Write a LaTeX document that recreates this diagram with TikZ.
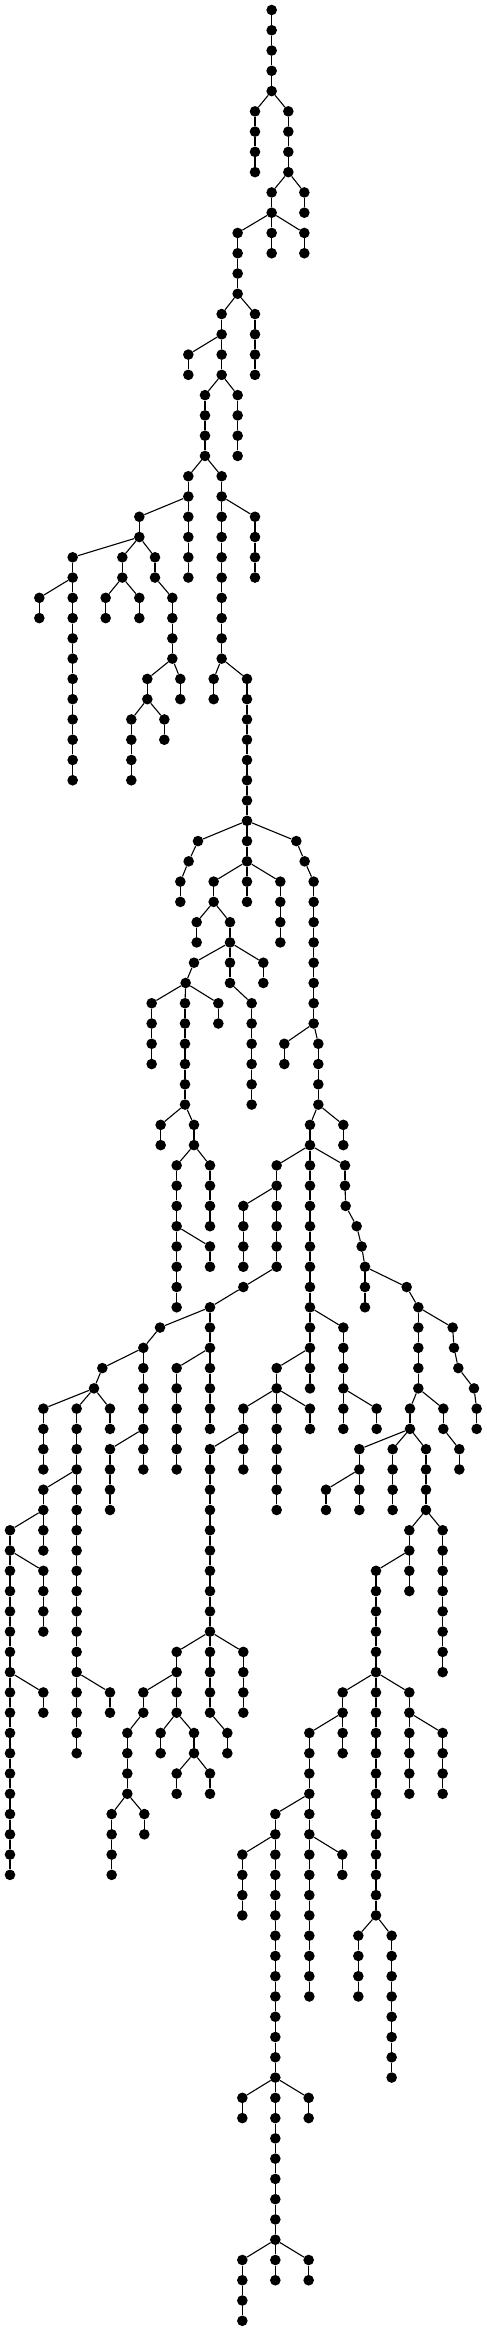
\documentclass[tikz,border=0pt]{standalone}
\tikzset{vtx/.style={circle,fill=black,inner sep=0pt,minimum size=10.6pt},
  edge/.style={line width=1.1pt,black}}
\newcommand\addkid[3]{\node[vtx] (n#3x#2) at (#2,#3) {}; \draw[edge] (#1) -- (n#3x#2);}
\newcommand\addchain[3]{\foreach \l in {#2,...,#3}{\pgfmathtruncatemacro\pl{\l-1}\edef\tmp{\noexpand\addkid{n\pl x#1}{#1}{\l}}\tmp}}
\begin{document}
\begin{tikzpicture}
\useasboundingbox (0pt,0pt) rectangle (487pt,-2331pt);
\begin{scope}[shift={(0pt,-10pt)}, x={(0.33333pt,0pt)}, y={(0pt,-20.27pt)}]
\node[vtx] (n0x815) at (815,0) {};
\addchain{815}{1}{4}
\addkid{n4x815}{765}{5} \addchain{765}{6}{8}
\addkid{n4x815}{865}{5} \addchain{865}{6}{8}
\addkid{n8x865}{815}{9} \addchain{815}{10}{10}
\addkid{n8x865}{913}{9} \addchain{913}{10}{10}
\addkid{n10x815}{713}{11} \addchain{713}{12}{14}
\addkid{n10x815}{815}{11} \addchain{815}{12}{12}
\addkid{n10x815}{913}{11} \addchain{913}{12}{12}
\addkid{n14x713}{665}{15} \addchain{665}{16}{16}
\addkid{n14x713}{765}{15} \addchain{765}{16}{18}
\addkid{n16x665}{565}{17} \addchain{565}{18}{18}
\addkid{n16x665}{665}{17} \addchain{665}{18}{18}
\addkid{n18x665}{615}{19} \addchain{615}{20}{22}
\addkid{n18x665}{713}{19} \addchain{713}{20}{22}
\addkid{n22x615}{565}{23} \addchain{565}{24}{24}
\addkid{n22x615}{665}{23} \addchain{665}{24}{24}
\addkid{n24x565}{418}{25} \addchain{418}{26}{26}
\addkid{n24x565}{565}{25} \addchain{565}{26}{28}
\addkid{n24x665}{665}{25} \addchain{665}{26}{32}
\addkid{n24x665}{765}{25} \addchain{765}{26}{28}
\addkid{n26x418}{218}{27} \addchain{218}{28}{28}
\addkid{n26x418}{367}{27} \addchain{367}{28}{28}
\addkid{n26x418}{465}{27} \addchain{465}{28}{28}
\addkid{n28x218}{118}{29} \addchain{118}{30}{30}
\addkid{n28x218}{218}{29} \addchain{218}{30}{38}
\addkid{n28x367}{317}{29} \addchain{317}{30}{30}
\addkid{n28x367}{418}{29} \addchain{418}{30}{30}
\addkid{n28x465}{517}{29} \addchain{517}{30}{32}
\addkid{n32x517}{442}{33} \addchain{442}{34}{34}
\addkid{n32x517}{541}{33} \addchain{541}{34}{34}
\addkid{n34x442}{394}{35} \addchain{394}{36}{38}
\addkid{n34x442}{493}{35} \addchain{493}{36}{36}
\addkid{n32x665}{641}{33} \addchain{641}{34}{34}
\addkid{n32x665}{741}{33} \addchain{741}{34}{40}
\addkid{n40x741}{594}{41}
\addkid{n41x594}{566}{42}
\addkid{n42x566}{541}{43} \addchain{541}{44}{44}
\addkid{n40x741}{741}{41} \addchain{741}{42}{42}
\addkid{n42x741}{641}{43} \addchain{641}{44}{44}
\addkid{n42x741}{741}{43} \addchain{741}{44}{44}
\addkid{n42x741}{841}{43} \addchain{841}{44}{46}
\addkid{n40x741}{889}{41}
\addkid{n41x889}{914}{42}
\addkid{n42x914}{941}{43} \addchain{941}{44}{50}
\addkid{n44x641}{590}{45} \addchain{590}{46}{46}
\addkid{n44x641}{690}{45} \addchain{690}{46}{46}
\addkid{n46x690}{582}{47}
\addkid{n47x582}{557}{48}
\addkid{n46x690}{690}{47} \addchain{690}{48}{48}
\addkid{n46x690}{790}{47} \addchain{790}{48}{48}
\addkid{n48x557}{455}{49} \addchain{455}{50}{52}
\addkid{n48x557}{555}{49} \addchain{555}{50}{54}
\addkid{n48x557}{655}{49} \addchain{655}{50}{50}
\addkid{n48x690}{755}{49} \addchain{755}{50}{54}
\addkid{n50x941}{853}{51} \addchain{853}{52}{52}
\addkid{n50x941}{955}{51} \addchain{955}{52}{54}
\addkid{n54x555}{482}{55} \addchain{482}{56}{56}
\addkid{n54x555}{582}{55} \addchain{582}{56}{56}
\addkid{n54x955}{930}{55} \addchain{930}{56}{56}
\addkid{n54x955}{1030}{55} \addchain{1030}{56}{56}
\addkid{n56x582}{530}{57} \addchain{530}{58}{64}
\addkid{n56x582}{630}{57} \addchain{630}{58}{60}
\addkid{n60x530}{630}{61} \addchain{630}{62}{62}
\addkid{n56x930}{830}{57} \addchain{830}{58}{62}
\addkid{n58x830}{730}{59} \addchain{730}{60}{62}
\addkid{n56x930}{930}{57} \addchain{930}{58}{68}
\addkid{n56x930}{1035}{57} \addchain{1035}{58}{58}
\addkid{n58x1035}{1037}{59}
\addkid{n59x1037}{1070}{60}
\addkid{n60x1070}{1085}{61}
\addkid{n61x1085}{1095}{62}
\addkid{n62x1095}{1095}{63} \addchain{1095}{64}{64}
\addkid{n62x1095}{1220}{63}
\addkid{n63x1220}{1255}{64} \addchain{1255}{65}{68}
\addkid{n64x1255}{1358}{65}
\addkid{n65x1358}{1362}{66}
\addkid{n66x1362}{1375}{67}
\addkid{n67x1375}{1422}{68}
\addkid{n68x1422}{1430}{69} \addchain{1430}{70}{70}
\addkid{n62x830}{730}{63}
\addkid{n63x730}{630}{64} \addchain{630}{65}{70}
\addkid{n64x630}{480}{65}
\addkid{n65x480}{430}{66} \addchain{430}{67}{72}
\addkid{n66x630}{530}{67} \addchain{530}{68}{72}
\addkid{n66x430}{307}{67}
\addkid{n67x307}{282}{68}
\addkid{n68x282}{130}{69} \addchain{130}{70}{72}
\addkid{n68x282}{230}{69} \addchain{230}{70}{86}
\addkid{n68x282}{330}{69} \addchain{330}{70}{70}
\addkid{n70x430}{330}{71} \addchain{330}{72}{74}
\addkid{n72x230}{130}{73} \addchain{130}{74}{74}
\addkid{n74x130}{30}{75} \addchain{30}{76}{92}
\addkid{n74x130}{130}{75} \addchain{130}{76}{76}
\addkid{n76x30}{130}{77} \addchain{130}{78}{80}
\addkid{n82x30}{130}{83} \addchain{130}{84}{84}
\addkid{n82x230}{330}{83} \addchain{330}{84}{84}
\addkid{n66x930}{830}{67} \addchain{830}{68}{68}
\addkid{n68x830}{730}{69} \addchain{730}{70}{72}
\addkid{n68x830}{830}{69} \addchain{830}{70}{74}
\addkid{n68x830}{930}{69} \addchain{930}{70}{70}
\addkid{n70x730}{630}{71} \addchain{630}{72}{84}
\addkid{n64x930}{1030}{65} \addchain{1030}{66}{70}
\addkid{n68x1030}{1130}{69} \addchain{1130}{70}{70}
\addkid{n68x1255}{1230}{69} \addchain{1230}{70}{70}
\addkid{n68x1255}{1330}{69} \addchain{1330}{70}{70}
\addkid{n70x1330}{1378}{71} \addchain{1378}{72}{72}
\addkid{n70x1230}{1078}{71} \addchain{1078}{72}{72}
\addkid{n72x1078}{978}{73} \addchain{978}{74}{74}
\addkid{n72x1078}{1078}{73} \addchain{1078}{74}{74}
\addkid{n70x1230}{1178}{71} \addchain{1178}{72}{74}
\addkid{n70x1230}{1278}{71} \addchain{1278}{72}{74}
\addkid{n74x1278}{1228}{75} \addchain{1228}{76}{76}
\addkid{n74x1278}{1328}{75} \addchain{1328}{76}{82}
\addkid{n76x1228}{1128}{77} \addchain{1128}{78}{94}
\addkid{n76x1228}{1228}{77} \addchain{1228}{78}{78}
\addkid{n82x1128}{1028}{83} \addchain{1028}{84}{84}
\addkid{n82x1128}{1228}{83} \addchain{1228}{84}{84}
\addkid{n84x1028}{928}{85} \addchain{928}{86}{88}
\addkid{n84x1028}{1028}{85} \addchain{1028}{86}{86}
\addkid{n84x1228}{1228}{85} \addchain{1228}{86}{88}
\addkid{n84x1228}{1328}{85} \addchain{1328}{86}{88}
\addkid{n88x928}{826}{89} \addchain{826}{90}{112}
\addkid{n88x928}{928}{89} \addchain{928}{90}{98}
\addkid{n90x826}{727}{91} \addchain{727}{92}{94}
\addkid{n90x928}{1027}{91} \addchain{1027}{92}{92}
\addkid{n94x1128}{1075}{95} \addchain{1075}{96}{98}
\addkid{n94x1128}{1175}{95} \addchain{1175}{96}{102}
\addkid{n102x826}{727}{103} \addchain{727}{104}{104}
\addkid{n102x826}{926}{103} \addchain{926}{104}{104}
\addkid{n110x826}{727}{111} \addchain{727}{112}{114}
\addkid{n110x826}{926}{111} \addchain{926}{112}{112}
\addkid{n80x630}{530}{81} \addchain{530}{82}{84}
\addkid{n80x630}{730}{81} \addchain{730}{82}{84}
\addkid{n82x530}{430}{83} \addchain{430}{84}{84}
\addkid{n84x430}{382}{85} \addchain{382}{86}{88}
\addkid{n84x530}{482}{85} \addchain{482}{86}{86}
\addkid{n84x530}{582}{85} \addchain{582}{86}{86}
\addkid{n84x630}{682}{85} \addchain{682}{86}{86}
\addkid{n86x582}{530}{87} \addchain{530}{88}{88}
\addkid{n86x582}{630}{87} \addchain{630}{88}{88}
\addkid{n88x382}{335}{89} \addchain{335}{90}{92}
\addkid{n88x382}{433}{89} \addchain{433}{90}{90}
\end{scope}
\end{tikzpicture}
\end{document}
